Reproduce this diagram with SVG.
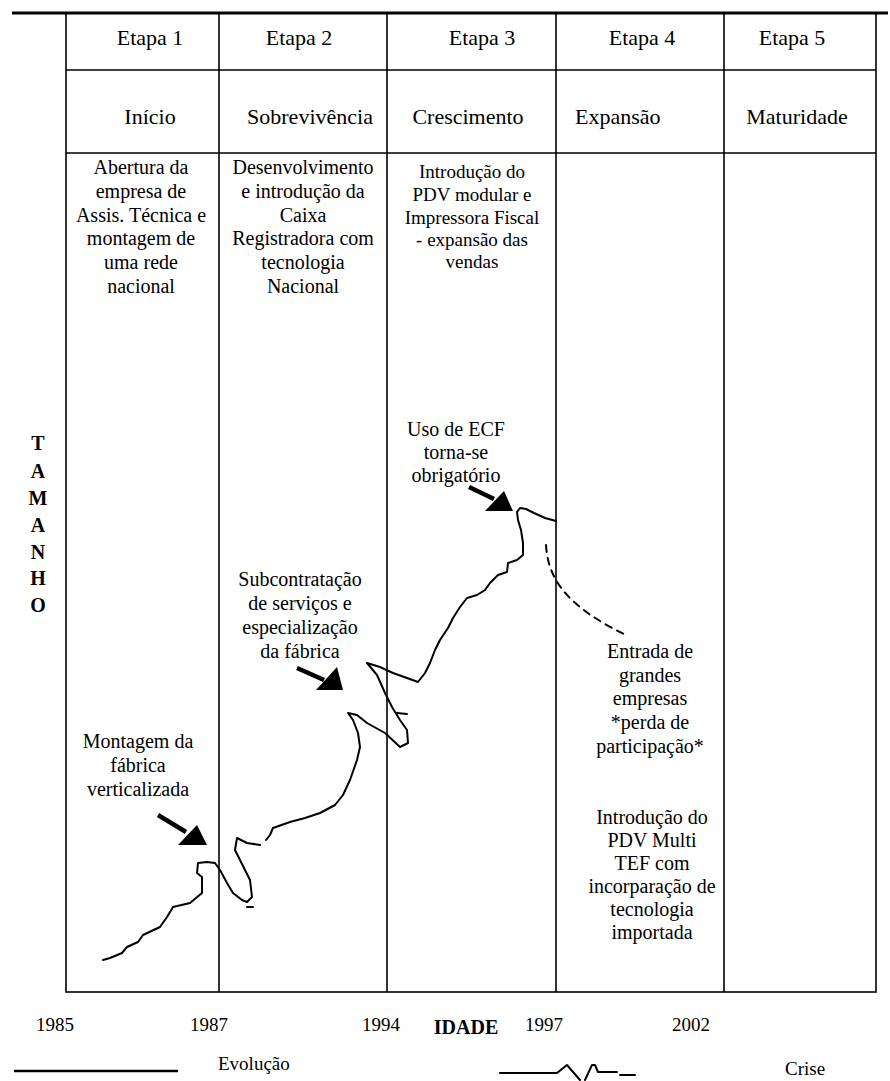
<svg xmlns="http://www.w3.org/2000/svg" width="890" height="1081" viewBox="0 0 890 1081">
  <defs>
    <style>
      .grid { stroke: #000; stroke-width: 1.6; fill: none; }
      .head { font-family: "Liberation Serif", "Times New Roman", serif; font-size: 22px; fill: #000; }
      .body { font-family: "Liberation Serif", "Times New Roman", serif; font-size: 20px; fill: #000; text-anchor: middle; }
      .axis { font-family: "Liberation Serif", "Times New Roman", serif; font-size: 20px; font-weight: bold; fill: #000; text-anchor: middle; }
      .year { font-family: "Liberation Serif", "Times New Roman", serif; font-size: 19px; fill: #000; }
      .curve { stroke: #000; stroke-width: 2; fill: none; stroke-linejoin: round; stroke-linecap: round; }
      .shaft { stroke: #000; stroke-width: 4.5; }
      .tip { fill: #000; }
    </style>
  </defs>
  <rect width="890" height="1081" fill="#fff"/>

  <!-- table frame -->
  <g id="frame">
    <line x1="12" y1="13" x2="888" y2="13" stroke="#000" stroke-width="3"/>
    <rect class="grid" x="66" y="13" width="810" height="979"/>
    <line class="grid" x1="219" y1="13" x2="219" y2="992"/>
    <line class="grid" x1="387" y1="13" x2="387" y2="992"/>
    <line class="grid" x1="556" y1="13" x2="556" y2="992"/>
    <line class="grid" x1="724" y1="13" x2="724" y2="992"/>
    <line class="grid" x1="66" y1="70" x2="876" y2="70"/>
    <line class="grid" x1="66" y1="153" x2="876" y2="153"/>
  </g>

  <!-- stage headers -->
  <g id="headers" class="head">
    <text x="150" y="45" text-anchor="middle">Etapa 1</text>
    <text x="299" y="45" text-anchor="middle">Etapa 2</text>
    <text x="482" y="45" text-anchor="middle">Etapa 3</text>
    <text x="642" y="45" text-anchor="middle">Etapa 4</text>
    <text x="792" y="45" text-anchor="middle">Etapa 5</text>
    <text x="150" y="124" text-anchor="middle">Início</text>
    <text x="310" y="124" text-anchor="middle">Sobrevivência</text>
    <text x="468" y="124" text-anchor="middle">Crescimento</text>
    <text x="575" y="124">Expansão</text>
    <text x="797" y="124" text-anchor="middle">Maturidade</text>
  </g>

  <!-- stage descriptions -->
  <g id="desc-etapa1" class="body">
    <text x="141" y="174">Abertura da</text>
    <text x="141" y="198">empresa de</text>
    <text x="141" y="222">Assis. Técnica e</text>
    <text x="141" y="245">montagem de</text>
    <text x="141" y="269">uma rede</text>
    <text x="141" y="293">nacional</text>
  </g>
  <g id="desc-etapa2" class="body">
    <text x="303" y="174">Desenvolvimento</text>
    <text x="303" y="198">e introdução da</text>
    <text x="303" y="222">Caixa</text>
    <text x="303" y="245">Registradora  com</text>
    <text x="303" y="269">tecnologia</text>
    <text x="303" y="293">Nacional</text>
  </g>
  <g id="desc-etapa3" class="body" style="font-size:19px">
    <text x="472" y="178">Introdução do</text>
    <text x="472" y="201">PDV modular e</text>
    <text x="472" y="224">Impressora Fiscal</text>
    <text x="472" y="246">- expansão das</text>
    <text x="472" y="268">vendas</text>
  </g>

  <!-- vertical axis label -->
  <g id="axis-tamanho" class="axis">
    <text x="38" y="450">T</text>
    <text x="38" y="478">A</text>
    <text x="38" y="505">M</text>
    <text x="38" y="532">A</text>
    <text x="38" y="559">N</text>
    <text x="38" y="585">H</text>
    <text x="38" y="612">O</text>
  </g>

  <!-- event notes -->
  <g id="note-ecf" class="body">
    <text x="456" y="436">Uso de ECF</text>
    <text x="456" y="459">torna-se</text>
    <text x="456" y="482">obrigatório</text>
  </g>
  <g id="note-subcontratacao" class="body">
    <text x="300" y="586">Subcontratação</text>
    <text x="300" y="610">de serviços e</text>
    <text x="300" y="634">especialização</text>
    <text x="300" y="658">da fábrica</text>
  </g>
  <g id="note-montagem" class="body">
    <text x="138" y="748">Montagem da</text>
    <text x="138" y="772">fábrica</text>
    <text x="138" y="796">verticalizada</text>
  </g>
  <g id="note-entrada" class="body">
    <text x="650" y="658">Entrada de</text>
    <text x="650" y="682">grandes</text>
    <text x="650" y="705">empresas</text>
    <text x="650" y="729">*perda de</text>
    <text x="650" y="753">participação*</text>
  </g>
  <g id="note-multitef" class="body">
    <text x="652" y="824">Introdução do</text>
    <text x="652" y="847">PDV Multi</text>
    <text x="652" y="870">TEF com</text>
    <text x="652" y="893">incorparação de</text>
    <text x="652" y="916">tecnologia</text>
    <text x="652" y="939">importada</text>
  </g>

  <!-- growth curve, crisis loops and pointer arrows -->
  <g id="connectors">
    <polyline class="curve" points="103,960 110,958 122,953 127,947 138,942 143,935 160,927 167,917 173,907 190,903 202,893 202,877 197,873 198,863 207,862 215,863 220,870 227,883 233,893 242,900 247,902 252,897 250,880 245,870 240,860 235,850 237,838 247,843 260,845"/>
    <polyline class="curve" points="266,840 270,835 273,828 290,822 305,818 320,813 335,805 343,795 350,780 357,760 360,747 358,733 353,720 348,713 357,715 367,723 385,733 400,747 408,743 407,730 400,720 392,707 385,693 377,675 367,663 380,667 393,673 407,678 418,682 425,673 430,663 435,650 440,640 448,628 453,618 460,607 467,598 477,595 485,590 490,583 498,575 507,572 508,563 517,560 523,555 523,543 521,530 518,520 517,512 520,508 526,509 534,513 545,518 556,521"/>
    <line class="curve" x1="247" y1="907" x2="253" y2="907"/>
    <line class="curve" x1="397" y1="713" x2="407" y2="714"/>
    <path class="curve" d="M546,545 C548,578 565,606 628,636" stroke-dasharray="7 6"/>

    <line class="shaft" x1="158" y1="815" x2="186" y2="832"/>
    <polygon class="tip" points="207,845 178,845 197,825"/>
    <line class="shaft" x1="297" y1="668" x2="324" y2="680"/>
    <polygon class="tip" points="343,690 316,690 337,667"/>
    <line class="shaft" x1="469" y1="487" x2="494" y2="499"/>
    <polygon class="tip" points="513,511 485,511 504,491"/>
  </g>

  <!-- time axis -->
  <g id="axis-idade">
    <text class="year" x="36" y="1031">1985</text>
    <text class="year" x="190" y="1031">1987</text>
    <text class="year" x="362" y="1031">1994</text>
    <text class="axis" x="466" y="1034">IDADE</text>
    <text class="year" x="525" y="1031">1997</text>
    <text class="year" x="672" y="1031">2002</text>
  </g>

  <!-- legend -->
  <g id="legend">
    <line x1="14" y1="1071" x2="178" y2="1071" stroke="#000" stroke-width="2.5"/>
    <text class="year" x="218" y="1070">Evolução</text>
    <polyline class="curve" points="500,1073 557,1073 567,1065 580,1080"/>
    <polyline class="curve" points="585,1080 592,1065 595,1065 598,1072 617,1072"/>
    <line class="curve" x1="620" y1="1075" x2="635" y2="1075"/>
    <text class="year" x="785" y="1075">Crise</text>
  </g>
</svg>
